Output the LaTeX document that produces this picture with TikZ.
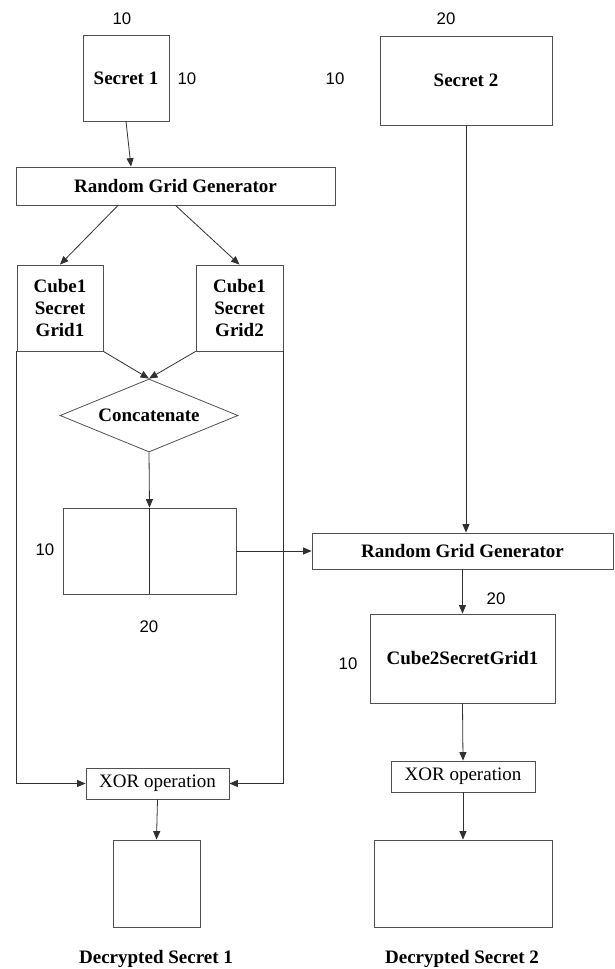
\documentclass[tikz,border=0pt]{standalone}
\usepackage{fontspec}
\setmainfont{Liberation Serif}
\newfontfamily\numfont{Liberation Sans}
\usetikzlibrary{arrows.meta,shapes.geometric}
\definecolor{boxgray}{HTML}{505050}
\definecolor{linegray}{HTML}{303030}
\begin{document}
\begin{tikzpicture}[x=1pt,y=-1pt,
  box/.style={draw=boxgray, line width=0.8pt, inner sep=0pt, align=center,
    font=\fontsize{19}{22}\selectfont\bfseries},
  opbox/.style={draw=boxgray, line width=0.8pt, inner sep=0pt, align=center,
    font=\fontsize{19}{22}\selectfont},
  num/.style={inner sep=0pt, font=\numfont\fontsize{16.8}{18}\selectfont},
  caption/.style={inner sep=0pt, anchor=base, font=\fontsize{19}{22}\selectfont\bfseries},
  conn/.style={draw=linegray, line width=0.8pt, -{Triangle[length=8.5pt,width=7pt]}},
  plainline/.style={draw=linegray, line width=0.8pt}
]
\useasboundingbox (0,0) rectangle (614,969);

% left column
\node[box, minimum width=86pt, minimum height=86pt] (s1) at (126,78) {Secret 1};
\node[box, minimum width=319pt, minimum height=38pt] (rgg1) at (175.5,186) {Random Grid Generator};
\node[box, minimum width=86pt, minimum height=86pt] (g1) at (60,308) {Cube1\\Secret\\Grid1};
\node[box, minimum width=87pt, minimum height=86pt] (g2) at (239.5,308) {Cube1\\Secret\\Grid2};
\node[box, diamond, shape aspect=2.44, minimum width=178pt, minimum height=73pt] (dia) at (149,415.5) {Concatenate};
\node[box, minimum width=173pt, minimum height=86pt] (cat) at (149.5,551) {};
\node[opbox, minimum width=143pt, minimum height=31pt] (x1) at (157.5,783.5) {XOR operation};
\node[box, minimum width=87pt, minimum height=87pt] (d1) at (156.5,883.5) {};

% right column
\node[box, minimum width=172pt, minimum height=89pt] (s2) at (466,80.5) {Secret 2};
\node[box, minimum width=301pt, minimum height=36pt] (rgg2) at (462.5,551) {Random Grid Generator};
\node[box, minimum width=185pt, minimum height=89pt] (c2) at (462.5,658.5) {Cube2SecretGrid1};
\node[opbox, minimum width=144pt, minimum height=31pt] (x2) at (463,776.5) {XOR operation};
\node[box, minimum width=178pt, minimum height=87pt] (d2) at (463,883.5) {};

% dimension labels
\node[num] (n1) at (122,19) {10};
\node[num] (n2) at (187,78.5) {10};
\node[num] (n3) at (446,19) {20};
\node[num] (n4) at (335,79) {10};
\node[num] (n5) at (45,550) {10};
\node[num] (n6) at (149,627) {20};
\node[num] (n7) at (496,599) {20};
\node[num] (n8) at (348,664) {10};

% captions
\node[caption] (cap1) at (156,963) {Decrypted Secret 1};
\node[caption] (cap2) at (462,963) {Decrypted Secret 2};

% connectors
\draw[conn] (s1.south) -- ([xshift=-44.5pt]rgg1.north);
\draw[conn] ([xshift=-57.5pt]rgg1.south) -- (g1.north);
\draw[conn] (rgg1.south) -- (g2.north);
\draw[conn] (g1.south east) -- (dia.north);
\draw[conn] (g2.south west) -- (dia.north);
\draw[conn] (dia.south) -- (cat.north);
\draw[plainline] (cat.north) -- (cat.south);
\draw[conn] (g1.south west) |- (x1.west);
\draw[conn] (g2.south east) |- (x1.east);
\draw[conn] (x1.south) -- (d1.north);
\draw[conn] (cat.east) -- (rgg2.west);
\draw[conn] (s2.south) -- (s2.south |- rgg2.north);
\draw[conn] (rgg2.south) -- (c2.north);
\draw[conn] (c2.south) -- (x2.north);
\draw[conn] (x2.south) -- (d2.north);
\end{tikzpicture}
\end{document}
